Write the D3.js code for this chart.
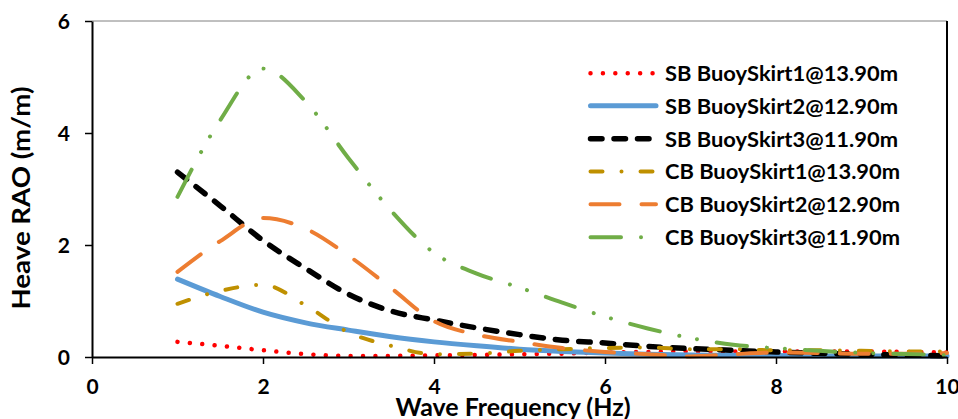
<!DOCTYPE html>
<html>
<head>
<meta charset="utf-8">
<script src="https://cdn.jsdelivr.net/npm/d3@7"></script>
<style>
  html, body { margin: 0; padding: 0; background: #fff; }
  svg { display: block; }
  text { font-family: Lato, "Open Sans", sans-serif; font-weight: bold; fill: #000; }
</style>
</head>
<body>
<svg id="chart" width="958" height="419"></svg>
<script>
// ---- data ----
const freq = [1, 1.5, 2, 2.5, 3, 3.5, 4, 4.5, 5, 5.5, 6, 6.5, 7, 7.5, 8, 8.5, 9, 9.5, 10];
const sbSkirt1 = [0.27, 0.2, 0.12, 0.05, 0.02, 0.02, 0.03, 0.035, 0.05, 0.06, 0.08, 0.09, 0.1, 0.1, 0.1, 0.1, 0.1, 0.09, 0.08];
const sbSkirt2 = [1.39, 1.08, 0.8, 0.61, 0.48, 0.36, 0.27, 0.2, 0.14, 0.1, 0.07, 0.05, 0.035, 0.03, 0.025, 0.02, 0.02, 0.02, 0.02];
const sbSkirt3 = [3.3, 2.7, 2.08, 1.58, 1.12, 0.82, 0.66, 0.52, 0.4, 0.3, 0.25, 0.19, 0.15, 0.12, 0.09, 0.065, 0.05, 0.035, 0.02];
const cbSkirt1 = [0.95, 1.18, 1.29, 0.92, 0.44, 0.2, 0.05, 0.06, 0.11, 0.14, 0.16, 0.17, 0.14, 0.14, 0.12, 0.12, 0.11, 0.1, 0.1];
const cbSkirt2 = [1.52, 2.07, 2.48, 2.29, 1.81, 1.23, 0.64, 0.4, 0.27, 0.16, 0.09, 0.05, 0.01, 0.05, 0.08, 0.07, 0.06, 0.06, 0.07];
const cbSkirt3 = [2.86, 4.23, 5.15, 4.56, 3.55, 2.61, 1.86, 1.49, 1.24, 0.97, 0.72, 0.51, 0.34, 0.22, 0.16, 0.11, 0.075, 0.055, 0.03];
const seriesNames = ["SB BuoySkirt1@13.90m", "SB BuoySkirt2@12.90m", "SB BuoySkirt3@11.90m",
                     "CB BuoySkirt1@13.90m", "CB BuoySkirt2@12.90m", "CB BuoySkirt3@11.90m"];
const xTicks = [0, 2, 4, 6, 8, 10];
const yTicks = [0, 2, 4, 6];
const xTitle = "Wave Frequency (Hz)";
const yTitle = "Heave RAO (m/m)";

// ---- styles ----
const styles = [
  { color: "#FF0000", width: 4.5, dash: "0.01,12.4" },
  { color: "#5B9BD5", width: 5,   dash: null },
  { color: "#000000", width: 5.5, dash: "11.5,12" },
  { color: "#BF9000", width: 4,   dash: "12,19,0.01,19" },
  { color: "#ED7D31", width: 4,   dash: "29,22" },
  { color: "#70AD47", width: 4,   dash: "30.5,20,0.01,18,0.01,20" }
];
const allSeries = [sbSkirt1, sbSkirt2, sbSkirt3, cbSkirt1, cbSkirt2, cbSkirt3];

const svg = d3.select("#chart");
const x = d3.scaleLinear().domain([0, 10]).range([92, 947]);
const y = d3.scaleLinear().domain([0, 6]).range([357, 21]);

// plot area border (top/right)
svg.append("line").attr("x1", x(0)).attr("x2", x(10)).attr("y1", y(6)).attr("y2", y(6))
  .attr("stroke", "#808080").attr("stroke-width", 1);
svg.append("line").attr("x1", x(10)).attr("x2", x(10)).attr("y1", y(6)).attr("y2", y(0))
  .attr("stroke", "#000").attr("stroke-width", 2);

// series
const line = d3.line().x(d => x(d[0])).y(d => y(d[1])).curve(d3.curveMonotoneX);
const gLines = svg.append("g");
allSeries.forEach((vals, i) => {
  const st = styles[i];
  gLines.append("path")
    .datum(freq.map((f, k) => [f, vals[k]]))
    .attr("d", line)
    .attr("fill", "none")
    .attr("stroke", st.color)
    .attr("stroke-width", st.width)
    .attr("stroke-linecap", "round")
    .attr("stroke-linejoin", "round")
    .attr("stroke-dasharray", st.dash);
});

// axes
const xAxis = svg.append("g").attr("transform", `translate(0,${y(0)})`)
  .call(d3.axisBottom(x).tickValues(xTicks).tickFormat(d3.format("d")).tickSize(7).tickSizeOuter(0).tickPadding(15));
const yAxis = svg.append("g").attr("transform", `translate(${x(0)},0)`)
  .call(d3.axisLeft(y).tickValues(yTicks).tickFormat(d3.format("d")).tickSize(7).tickSizeOuter(0).tickPadding(15));
[xAxis, yAxis].forEach(g => {
  g.select(".domain").attr("stroke", "#000").attr("stroke-width", 2);
  g.selectAll(".tick line").attr("stroke", "#000").attr("stroke-width", 1.5);
  g.selectAll(".tick text").attr("font-family", "Lato, sans-serif").attr("font-weight", "bold")
    .attr("font-size", 21).attr("fill", "#000");
});
yAxis.selectAll(".tick text").attr("dy", "0.36em");

function fit(sel, target) {
  const w = sel.node().getComputedTextLength();
  if (Math.abs(w - target) / target > 0.015) {
    sel.attr("textLength", target).attr("lengthAdjust", "spacingAndGlyphs");
  }
}

// axis titles
const xt = svg.append("text").attr("x", 513).attr("y", 416).attr("text-anchor", "middle")
  .attr("font-size", 24).text(xTitle);
fit(xt, 235);
const yt = svg.append("text").attr("transform", "translate(30,198) rotate(-90)")
  .attr("text-anchor", "middle").attr("font-size", 24).text(yTitle);
fit(yt, 223);

// legend
const legBase = [81, 113.5, 146.5, 179.3, 212, 245];
const gLeg = svg.append("g");
seriesNames.forEach((name, i) => {
  const st = styles[i];
  const yy = legBase[i] - 7.8;
  gLeg.append("line").attr("x1", 590.5).attr("x2", 656).attr("y1", yy).attr("y2", yy)
    .attr("stroke", st.color).attr("stroke-width", st.width)
    .attr("stroke-linecap", "round").attr("stroke-dasharray", st.dash);
  const t = gLeg.append("text").attr("x", 665).attr("y", legBase[i]).attr("font-size", 21).text(name);
  fit(t, i < 3 ? 233 : 235);
});
</script>
</body>
</html>
